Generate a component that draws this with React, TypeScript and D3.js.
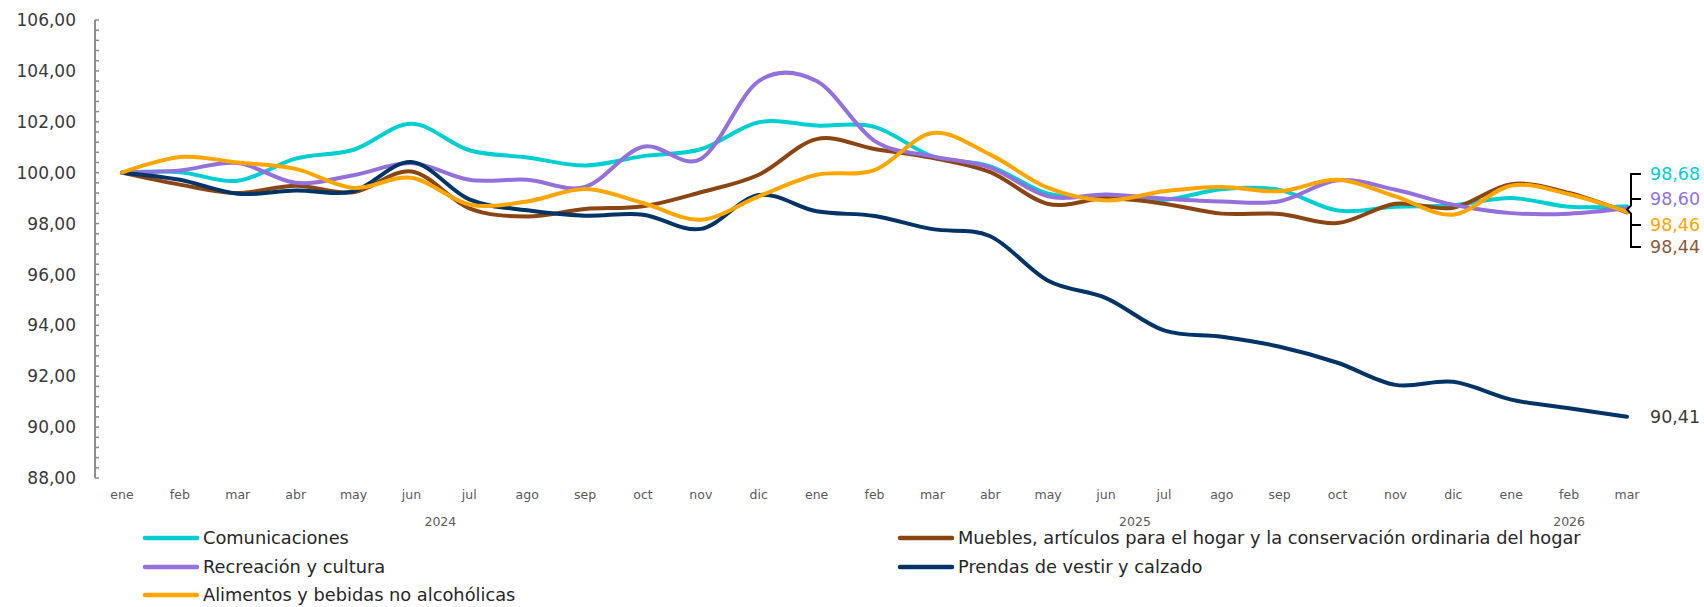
import React from 'react';
import * as d3 from 'd3';

const months = ['ene','feb','mar','abr','may','jun','jul','ago','sep','oct','nov','dic','ene','feb','mar','abr','may','jun','jul','ago','sep','oct','nov','dic','ene','feb','mar'];
const yearLabels = ['2024', '2025', '2026'];
const yearFirstIdx = [0, 12, 24];
const yearLastIdx = [11, 23, 26];

const yTicks = [88, 90, 92, 94, 96, 98, 100, 102, 104, 106];

const comunicaciones = [100, 100.02, 99.68, 100.55, 100.9, 101.92, 100.88, 100.6, 100.28, 100.65, 100.92, 101.98, 101.85, 101.8, 100.64, 100.25, 99.17, 99.04, 98.93, 99.35, 99.32, 98.51, 98.66, 98.72, 99.0, 98.66, 98.68];
const recreacion = [100, 100.09, 100.38, 99.6, 99.9, 100.38, 99.72, 99.72, 99.44, 101.02, 100.54, 103.6, 103.6, 101.25, 100.64, 100.2, 99.07, 99.14, 98.98, 98.87, 98.88, 99.7, 99.33, 98.74, 98.41, 98.39, 98.6];
const muebles = [100, 99.53, 99.2, 99.49, 99.23, 100.05, 98.6, 98.28, 98.57, 98.68, 99.23, 99.92, 101.32, 100.93, 100.58, 100.02, 98.77, 98.99, 98.78, 98.39, 98.38, 98.02, 98.78, 98.62, 99.55, 99.2, 98.44];
const prendas = [100, 99.72, 99.17, 99.3, 99.27, 100.42, 98.95, 98.52, 98.31, 98.35, 97.79, 99.12, 98.48, 98.3, 97.78, 97.5, 95.75, 95.07, 93.8, 93.55, 93.16, 92.53, 91.66, 91.78, 91.08, 90.74, 90.41];
const alimentos = [100, 100.62, 100.4, 100.15, 99.4, 99.8, 98.75, 98.87, 99.36, 98.81, 98.15, 99.07, 99.92, 100.1, 101.56, 100.71, 99.4, 98.91, 99.27, 99.44, 99.27, 99.72, 99.07, 98.35, 99.49, 99.15, 98.46];

const seriesNames = [
  'Comunicaciones',
  'Muebles, artículos para el hogar y la conservación ordinaria del hogar',
  'Recreación y cultura',
  'Prendas de vestir y calzado',
  'Alimentos y bebidas no alcohólicas',
];
const seriesValues = [comunicaciones, muebles, recreacion, prendas, alimentos];
const seriesColors = ['#00CED1', '#8B4513', '#9370DB', '#003366', '#FFA500'];

// end labels
const endLabelText = ['98,68', '98,60', '98,46', '98,44'];
const endLabelColors = ['#00CED1', '#9370DB', '#FFA500', '#8B5A3C'];

const FONT = '"DejaVu Sans", sans-serif';

export default function App() {
  const W = 1704, H = 607;
  const x = d3.scaleLinear().domain([0, months.length - 1]).range([122, 1627]);
  const y = d3.scaleLinear().domain([88, 106]).range([478, 20]);
  const line = d3.line<number>().x((_, i) => x(i)).y(d => y(d)).curve(d3.curveCardinal.tension(0));
  const fmt = (v: number) => d3.format('.2f')(v).replace('.', ',');
  const minorTicks = d3.range(0, 46).map(k => 88 + k * 0.4);
  const axisX = 95;

  const endLabelY = [174, 199, 225, 247];
  const bx = 1631;
  const notchY = y(98.55);

  const legendRows = [538, 567, 595];
  const legendCols = [145, 900];

  return (
    <svg width={W} height={H} style={{ position: 'absolute', left: 0, top: 0, background: '#fff' }} fontFamily={FONT}>
      {/* y axis */}
      <line x1={axisX} x2={axisX} y1={y(106)} y2={y(88)} stroke="#8c8c8c" strokeWidth={2} />
      {minorTicks.map((t, i) => (
        <line key={i} x1={axisX} x2={axisX + 4} y1={y(t)} y2={y(t)} stroke="#8c8c8c" strokeWidth={1.5} />
      ))}
      {yTicks.map(t => (
        <text key={t} x={76} y={y(t)} dy="0.36em" textAnchor="end" fontSize={17} fill="#3a3a3a">{fmt(t)}</text>
      ))}

      {/* x labels */}
      {months.map((m, i) => (
        <text key={i} x={x(i)} y={499} textAnchor="middle" fontSize={12.5} fill="#595959">{m}</text>
      ))}
      {yearLabels.map((yl, k) => (
        <text key={yl} x={(x(yearFirstIdx[k]) + x(yearLastIdx[k])) / 2} y={526} textAnchor="middle" fontSize={12.5} fill="#595959">{yl}</text>
      ))}

      {/* lines */}
      {seriesValues.map((vals, s) => (
        <path key={s} d={line(vals) || ''} fill="none" stroke={seriesColors[s]} strokeWidth={4} strokeLinejoin="round" strokeLinecap="round" />
      ))}

      {/* bracket */}
      <path
        d={`M${bx + 10},${endLabelY[0]} H${bx} V${notchY - 4} L${bx - 4},${notchY} L${bx},${notchY + 4} V${endLabelY[3]} H${bx + 10}`}
        fill="none" stroke="#000" strokeWidth={2}
      />
      <line x1={bx} x2={bx + 10} y1={endLabelY[1]} y2={endLabelY[1]} stroke="#000" strokeWidth={2} />
      <line x1={bx} x2={bx + 10} y1={endLabelY[2]} y2={endLabelY[2]} stroke="#000" strokeWidth={2} />
      {endLabelText.map((t, i) => (
        <text key={t} x={1650} y={endLabelY[i]} dy="0.36em" fontSize={17.5} fill={endLabelColors[i]}>{t}</text>
      ))}
      <text x={1650} y={y(prendas[prendas.length - 1])} dy="0.36em" fontSize={17.5} fill="#3a3a3a">{fmt(prendas[prendas.length - 1])}</text>

      {/* legend */}
      {seriesNames.map((n, s) => {
        const row = Math.floor(s / 2);
        const col = s % 2;
        const lx = legendCols[col];
        const ly = legendRows[row];
        return (
          <g key={n}>
            <line x1={lx} x2={lx + 52} y1={ly} y2={ly} stroke={seriesColors[s]} strokeWidth={4.5} strokeLinecap="round" />
            <text x={lx + 58} y={ly} dy="0.34em" fontSize={17.8} fill="#262626">{n}</text>
          </g>
        );
      })}
    </svg>
  );
}
